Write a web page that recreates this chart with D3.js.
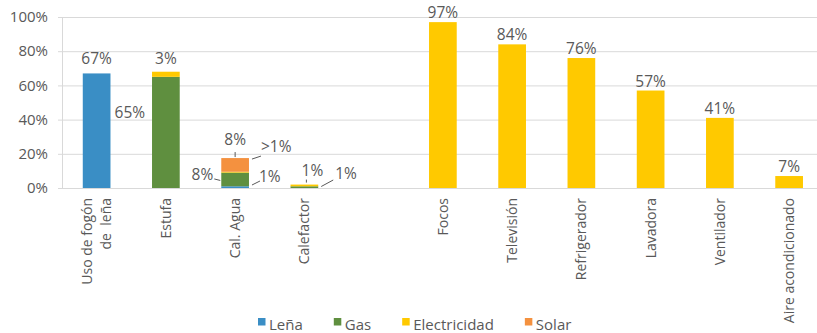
<!DOCTYPE html>
<html><head><meta charset="utf-8">
<script src="https://cdn.jsdelivr.net/npm/d3@7"></script>
<style>
html,body{margin:0;padding:0;background:#fff;overflow:hidden}
svg{display:block;font-family:"Open Sans",sans-serif}
</style></head>
<body><svg id="c" width="817" height="333"></svg>
<script>
// ---- data ----
const categories = ["Uso de fogón|de  leña","Estufa","Cal. Agua","Calefactor","","Focos","Televisión","Refrigerador","Lavadora","Ventilador","Aire acondicionado"];
const seriesNames = ["Leña","Gas","Electricidad","Solar"];
const lena  = [67, 0, 1, 0, 0, 0, 0, 0, 0, 0, 0];
const gas   = [0, 65, 8, 1, 0, 0, 0, 0, 0, 0, 0];
const elec  = [0, 3, 0.5, 1, 0, 97, 84, 76, 57, 41, 7];
const solar = [0, 0, 8, 0, 0, 0, 0, 0, 0, 0, 0];
const lenaLabels  = ["67%", "", "1%", "", "", "", "", "", "", "", ""];
const gasLabels   = ["", "65%", "8%", "1%", "", "", "", "", "", "", ""];
const elecLabels  = ["", "3%", ">1%", "1%", "", "97%", "84%", "76%", "57%", "41%", "7%"];
const solarLabels = ["", "", "8%", "", "", "", "", "", "", "", ""];
const yTicks = [0, 20, 40, 60, 80, 100];
const colors = ["#3a8ec5", "#5f8f3f", "#ffc900", "#f4913f"];

// ---- layout ----
const svg = d3.select("#c");
const M = {left: 62, top: 17, bottom: 188};
const x = d3.scaleBand().domain(d3.range(categories.length)).range([M.left, M.left + 69.25 * categories.length]).paddingInner(0.6).paddingOuter(0.3);
const y = d3.scaleLinear().domain([0, 100]).range([M.bottom, M.top]);
const textCol = "#595959", gridCol = "#d9d9d9";

// grid
svg.append("g").selectAll("line").data(yTicks).join("line")
  .attr("x1", M.left - 4).attr("x2", 817).attr("y1", d => y(d) + 0.5).attr("y2", d => y(d) + 0.5)
  .attr("stroke", gridCol).attr("stroke-width", 1);
svg.append("line").attr("x1", M.left + 0.5).attr("x2", M.left + 0.5).attr("y1", y(100)).attr("y2", y(0))
  .attr("stroke", gridCol);
svg.append("g").selectAll("text").data(yTicks).join("text")
  .attr("x", 48).attr("y", d => y(d)).attr("dy", "0.35em").attr("text-anchor", "end")
  .attr("fill", textCol).attr("font-size", 15).text(d => d + "%");

// stacked bars
const rows = categories.map((c, i) => ({i, s0: lena[i], s1: gas[i], s2: elec[i], s3: solar[i]}));
const stack = d3.stack().keys(["s0","s1","s2","s3"])(rows);
svg.append("g").selectAll("g").data(stack).join("g").attr("fill", (d, k) => colors[k])
  .selectAll("rect").data(d => d.filter(p => p[1] > p[0])).join("rect")
  .attr("x", p => x(p.data.i)).attr("width", x.bandwidth())
  .attr("y", p => y(p[1])).attr("height", p => y(p[0]) - y(p[1]));

// category labels
const cl = svg.append("g").attr("fill", textCol).attr("font-size", 14);
categories.forEach((c, i) => {
  const lines = c.split("|");
  const cx = x(i) + x.bandwidth() / 2;
  lines.forEach((ln, j) => {
    const off = (j - (lines.length - 1) / 2) * 18.5;
    cl.append("text").attr("transform", `translate(${cx + off + 5},198) rotate(-90)`)
      .attr("text-anchor", "end").attr("xml:space", "preserve").text(ln);
  });
});

// value labels
const vl = svg.append("g").attr("fill", textCol).attr("font-size", 15.5);
const ll = svg.append("g").attr("stroke", "#595959").attr("stroke-width", 1).attr("fill", "none");
const bx = i => x(i), bw = x.bandwidth(), bc = i => x(i) + bw / 2;
const stackTop = i => lena[i] + gas[i] + elec[i] + solar[i];
function lab(t, px, py, anchor) { if (t) vl.append("text").attr("x", px).attr("y", py).attr("text-anchor", anchor || "middle").text(t); }
function lead(x1, y1, x2, y2) { ll.append("line").attr("x1", x1).attr("y1", y1).attr("x2", x2).attr("y2", y2); }

// Leña group
lab(lenaLabels[0], bc(0), y(stackTop(0)) - 9);
lab(gasLabels[1], bc(1) - 36, y(gas[1]) + 41);
lab(elecLabels[1], bc(1), y(stackTop(1)) - 8);
// Cal. Agua
lab(solarLabels[2], bc(2), y(stackTop(2)) - 13);
lead(bc(2), y(stackTop(2)) - 6, bc(2), y(stackTop(2)) - 1);
lab(elecLabels[2], bx(2) + bw + 12, y(stackTop(2)) - 6, "start");
lead(bx(2) + bw + 3, y(stackTop(2)) + 1, bx(2) + bw + 12, y(stackTop(2)) - 2);
lab(gasLabels[2], bx(2) - 8, y(lena[2] + gas[2] / 2) + 1, "end");
lead(bx(2) - 7, y(lena[2] + gas[2] / 2) - 0.5, bx(2) - 1, y(lena[2] + gas[2] / 2) + 1);
lab(lenaLabels[2], bx(2) + bw + 10, y(0) - 6, "start");
lead(bx(2) + bw + 3, y(0) - 3, bx(2) + bw + 11, y(0) - 7);
// Calefactor
lab(elecLabels[3], bc(3) + 8, y(stackTop(3)) - 9);
lead(bc(3) + 2, y(stackTop(3)) - 5, bc(3) + 2, y(stackTop(3)) - 2);
lab(gasLabels[3], bx(3) + bw + 17, y(0) - 9, "start");
lead(bx(3) + bw + 3, y(0) - 1.5, bx(3) + bw + 15, y(0) - 8);
// Appliances
for (let i = 5; i < categories.length; i++) lab(elecLabels[i], bc(i), y(stackTop(i)) - 4);

// legend
const lg = svg.append("g").attr("font-size", 15).attr("fill", textCol);
let lx = 258;
seriesNames.forEach((n, k) => {
  lg.append("rect").attr("x", lx).attr("y", 318).attr("width", 7.5).attr("height", 7.5).attr("fill", colors[k]);
  const t = lg.append("text").attr("x", lx + 11).attr("y", 330).text(n);
  lx += 11 + t.node().getComputedTextLength() + 31;
});
</script></body></html>
